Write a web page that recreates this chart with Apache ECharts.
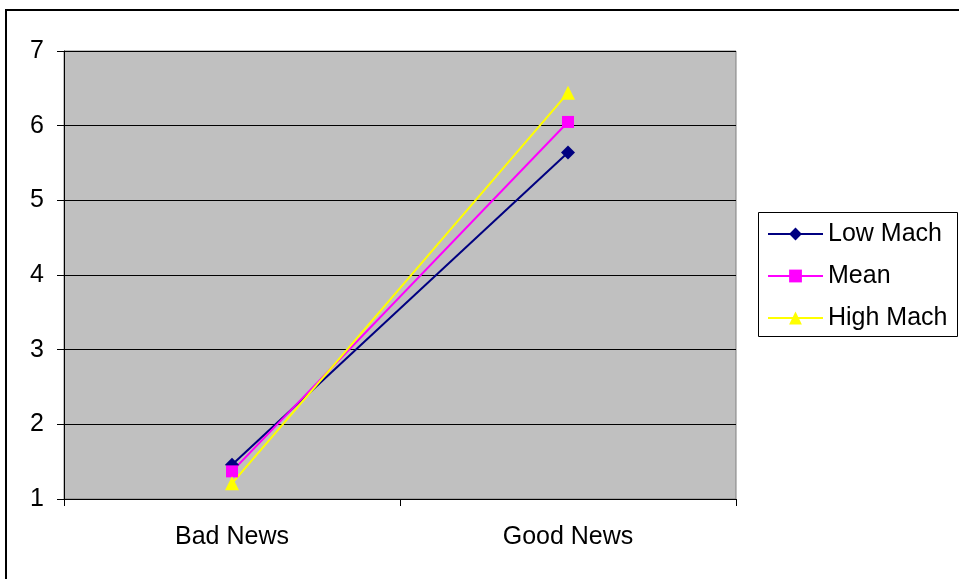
<!DOCTYPE html>
<html>
<head>
<meta charset="utf-8">
<script src="https://cdn.jsdelivr.net/npm/echarts@6/dist/echarts.min.js"></script>
<style>
  html, body { margin: 0; padding: 0; background: #fff; }
  #chart { width: 959px; height: 579px; }
</style>
</head>
<body>
<div id="chart"></div>
<script>
// Categories and series values
const categories = ['Bad News', 'Good News'];
const lowMach = [1.46, 5.64];
const meanVals = [1.37, 6.05];
const highMach = [1.21, 6.44];
const yTicks = [1, 2, 3, 4, 5, 6, 7];

const FONT = '"Liberation Sans", Arial, sans-serif';
const diamond = 'path://M0,-1L1,0L0,1L-1,0Z';

const chart = echarts.init(document.getElementById('chart'), null, { renderer: 'canvas' });

function lineSeries(name, data, color, symbol, size) {
  return {
    name: name,
    type: 'line',
    data: data,
    symbol: symbol,
    symbolSize: size,
    lineStyle: { color: color, width: 2 },
    itemStyle: { color: color, borderWidth: 0 },
    emphasis: { disabled: true },
    animation: false
  };
}

chart.setOption({
  animation: false,
  backgroundColor: '#ffffff',
  graphic: [
    {
      type: 'rect',
      shape: { x: 6, y: 10, width: 1000, height: 1000 },
      style: { fill: 'none', stroke: '#000', lineWidth: 2 },
      z: 100
    },
    {
      type: 'rect',
      shape: { x: 758.5, y: 212.5, width: 199, height: 124 },
      style: { fill: '#fff', stroke: '#000', lineWidth: 1 },
      z: 1
    }
  ],
  grid: {
    left: 64, top: 51, width: 672, height: 448,
    show: true,
    backgroundColor: '#c0c0c0',
    borderColor: '#808080',
    borderWidth: 1
  },
  legend: {
    orient: 'vertical',
    left: 767,
    top: 220,
    padding: 0,
    itemWidth: 55,
    itemHeight: 16,
    itemGap: 14,
    z: 10,
    textStyle: { fontFamily: FONT, fontSize: 25, color: '#000', lineHeight: 28, padding: [0, 0, 0, 0] },
    data: ['Low Mach', 'Mean', 'High Mach']
  },
  xAxis: {
    type: 'category',
    data: categories,
    boundaryGap: true,
    axisLine: { lineStyle: { color: '#000', width: 1 } },
    axisTick: { show: true, length: 7, lineStyle: { color: '#000' }, alignWithLabel: false },
    axisLabel: { fontFamily: FONT, fontSize: 25, color: '#000', margin: 26 },
    splitLine: { show: false }
  },
  yAxis: {
    type: 'value',
    min: yTicks[0],
    max: yTicks[yTicks.length - 1],
    interval: 1,
    axisLine: { show: true, lineStyle: { color: '#000', width: 1 } },
    axisTick: { show: true, length: 7, lineStyle: { color: '#000' } },
    axisLabel: { fontFamily: FONT, fontSize: 25, color: '#000', margin: 20 },
    splitLine: { show: true, lineStyle: { color: '#000', width: 1 } }
  },
  series: [
    lineSeries('Low Mach', lowMach, '#000080', diamond, 14),
    lineSeries('Mean', meanVals, '#ff00ff', 'rect', 12),
    lineSeries('High Mach', highMach, '#ffff00', 'triangle', 14)
  ]
});
</script>
</body>
</html>
